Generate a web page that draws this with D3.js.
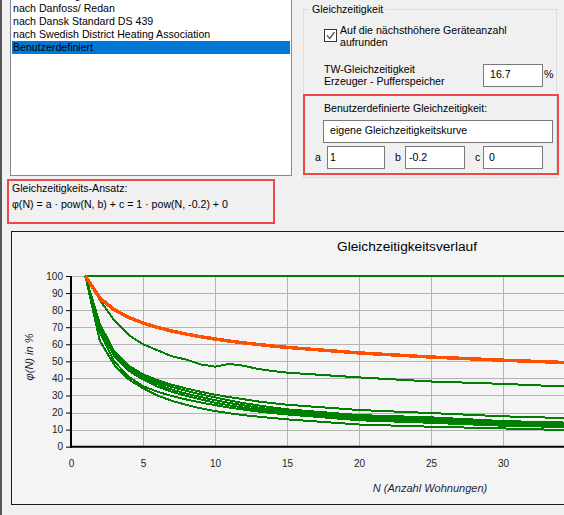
<!DOCTYPE html>
<html>
<head>
<meta charset="utf-8">
<script src="https://cdn.jsdelivr.net/npm/d3@7"></script>
<style>
  html, body { margin: 0; padding: 0; background: #f0f0f0; overflow: hidden; }
  svg { display: block; }
  .ui { font-family: "Liberation Sans", Arial, sans-serif; font-size: 10.6px; fill: #000; }
</style>
</head>
<body>
<svg id="chart" width="564" height="515"></svg>
<script>
// ---------- data ----------
const listItems = ["nach Recknagel", "nach Danfoss/ Redan", "nach Dansk Standard DS 439",
                   "nach Swedish District Heating Association", "Benutzerdefiniert"];
const selectedItem = "Benutzerdefiniert";
const paramA = "1", paramB = "-0.2", paramC = "0";
const twValue = "16.7";
const curveName = "eigene Gleichzeitigkeitskurve";
const formulaText = "φ(N) = a · pow(N, b) + c = 1 · pow(N, -0.2) + 0";

const chartTitle = "Gleichzeitigkeitsverlauf";
const xTitle = "N (Anzahl Wohnungen)";
const yTitle = "φ(N) in %";
const xTicks = [0, 5, 10, 15, 20, 25, 30];
const yTicks = [0, 10, 20, 30, 40, 50, 60, 70, 80, 90, 100];

const nValues      = [1, 2, 3, 4, 5, 6, 7, 8, 9, 10, 11, 12, 13, 14, 15, 20, 25, 30, 35, 40];
const userCurve    = [100, 87.06, 80.27, 75.79, 72.48, 69.88, 67.76, 65.98, 64.44, 63.10, 61.91, 60.84, 59.87, 58.99, 58.18, 54.93, 52.53, 50.66, 49.11, 47.82];
const curveFlat    = [100, 100, 100, 100, 100, 100, 100, 100, 100, 100, 100, 100, 100, 100, 100, 100, 100, 100, 100, 100];
const curveUpper   = [100, 86, 74, 65.5, 60, 56.5, 53, 51, 48.2, 46.9, 48.5, 47.4, 45.5, 44.3, 43.4, 40.6, 38.2, 36.8, 35.0, 33.6];
const curveA       = [100, 72, 56, 47.5, 42.4, 39.0, 36.3, 34.1, 32.2, 30.5, 29.0, 27.8, 26.5, 25.5, 24.6, 21.5, 19.7, 17.8, 16.6, 15.6];
const curveB       = [100, 71, 55, 46.5, 41.5, 37.8, 35.0, 32.7, 30.7, 28.9, 27.1, 25.5, 24.2, 23.0, 21.9, 18.5, 17.2, 15.0, 14.0, 13.2];
const curveC       = [100, 70, 54, 45.5, 40.5, 36.5, 33.5, 31.1, 29.1, 27.3, 25.6, 24.2, 22.9, 21.8, 20.8, 17.5, 16.0, 14.0, 13.1, 12.3];
const curveD       = [100, 69, 53, 44.5, 39.3, 35.2, 32.2, 29.8, 27.7, 25.8, 24.2, 22.9, 21.7, 20.7, 19.8, 16.5, 15.0, 13.0, 12.2, 11.4];
const curveE       = [100, 67, 50, 41, 35.5, 32.2, 29.7, 27.7, 25.9, 24.4, 22.9, 21.7, 20.6, 19.7, 18.9, 15.5, 14.0, 12.3, 11.4, 10.7];
const curveF       = [100, 62, 48, 39.5, 34.2, 30.0, 26.9, 24.5, 22.5, 20.9, 19.6, 18.5, 17.6, 16.8, 16.0, 13.0, 11.7, 10.7, 9.6, 9.0];

const greenCurves = [curveFlat, curveUpper, curveA, curveB, curveC, curveD, curveE, curveF];

// ---------- drawing ----------
const svg = d3.select("#chart");
const RED = "#ef4848";

function txt(g, x, y, s, opts = {}) {
  return g.append("text").attr("class", "ui").attr("x", x).attr("y", y).attr("dy", "0.35em")
    .attr("fill", opts.fill || "#000").style("font-size", opts.size || null).text(s);
}

// left dark edge
svg.append("rect").attr("x", 0).attr("y", 0).attr("width", 2).attr("height", 515).attr("fill", "#555");

// ---- list box ----
const lb = svg.append("g");
lb.append("rect").attr("x", 10.5).attr("y", -5).attr("width", 281).attr("height", 180.5)
  .attr("fill", "#fff").attr("stroke", "#828790");
const rowY = d3.scaleLinear().domain([0, 1]).range([-4.5, 8.5]);
listItems.forEach((s, i) => {
  const y = rowY(i);
  const sel = s === selectedItem;
  if (sel) lb.append("rect").attr("x", 12).attr("y", y - 6.5).attr("width", 278).attr("height", 13).attr("fill", "#0078d7");
  txt(lb, 13, y, s, { fill: sel ? "#fff" : "#000" });
});

// ---- formula box ----
svg.append("rect").attr("x", 8).attr("y", 180).attr("width", 266).attr("height", 43)
  .attr("fill", "none").attr("stroke", RED).attr("stroke-width", 2);
txt(svg, 12, 188, "Gleichzeitigkeits-Ansatz:");
txt(svg, 12, 204, formulaText);

// ---- group box ----
const gb = svg.append("g");
gb.append("rect").attr("x", 303.5).attr("y", 9.5).attr("width", 253).attr("height", 168)
  .attr("fill", "none").attr("stroke", "#dcdcdc");
gb.append("rect").attr("x", 309).attr("y", 3).attr("width", 76).attr("height", 12).attr("fill", "#f0f0f0");
txt(gb, 312, 9, "Gleichzeitigkeit");
// checkbox
gb.append("rect").attr("x", 324.5).attr("y", 29.5).attr("width", 12).attr("height", 12)
  .attr("fill", "#fff").attr("stroke", "#333");
gb.append("path").attr("d", "M327,35.5 L329.8,38.5 L334.5,32").attr("fill", "none")
  .attr("stroke", "#555").attr("stroke-width", 1.3);
txt(gb, 340, 30.5, "Auf die nächsthöhere Geräteanzahl");
txt(gb, 340, 42.5, "aufrunden");
txt(gb, 324, 69, "TW-Gleichzeitigkeit");
txt(gb, 324, 81.5, "Erzeuger - Pufferspeicher");
function box(x, y, w, h) {
  gb.append("rect").attr("x", x + 0.5).attr("y", y + 0.5).attr("width", w).attr("height", h)
    .attr("fill", "#fff").attr("stroke", "#7a7a7a");
}
box(483, 64, 59, 22);
txt(gb, 490, 74, twValue);
txt(gb, 544, 74, "%");
// red parameters box
gb.append("rect").attr("x", 304).attr("y", 95).attr("width", 254).attr("height", 79)
  .attr("fill", "none").attr("stroke", RED).attr("stroke-width", 2);
txt(gb, 324, 108, "Benutzerdefinierte Gleichzeitigkeit:");
box(323, 120, 229, 22);
txt(gb, 330, 130, curveName);
box(327, 146, 57, 22); txt(gb, 315, 157, "a"); txt(gb, 330, 157, paramA);
box(405, 146, 59, 22); txt(gb, 395, 157, "b"); txt(gb, 409, 157, paramB);
box(483, 146, 59, 22); txt(gb, 475, 157, "c"); txt(gb, 489, 157, paramC);

// ---- chart panel ----
svg.append("rect").attr("x", 11.5).attr("y", 231.5).attr("width", 600).attr("height", 273)
  .attr("fill", "#f4f4f4").attr("stroke", "#1a1a1a");

const x = d3.scaleLinear().domain([0, 40]).range([71, 71 + 14.4 * 40]);
const y = d3.scaleLinear().domain([0, 100]).range([446.7, 276]);

const plot = svg.append("g");
// grid
plot.selectAll(".gx").data(xTicks.filter(d => d > 0)).join("line")
  .attr("x1", d => Math.round(x(d)) + 0.5).attr("x2", d => Math.round(x(d)) + 0.5)
  .attr("y1", y(100)).attr("y2", y(0)).attr("stroke", "#b4b4b4").attr("shape-rendering", "crispEdges");
plot.selectAll(".gy").data(yTicks.filter(d => d > 0)).join("line")
  .attr("x1", x(0)).attr("x2", 564).attr("y1", d => Math.round(y(d)) + 0.5).attr("y2", d => Math.round(y(d)) + 0.5)
  .attr("stroke", "#b4b4b4").attr("shape-rendering", "crispEdges");

const line = d3.line().x((d, i) => x(nValues[i])).y(d => y(d));
greenCurves.forEach(c => {
  plot.append("path").attr("d", line(c)).attr("fill", "none").attr("stroke", "#008000")
    .attr("stroke-width", 2).attr("shape-rendering", "crispEdges");
});
plot.append("path").attr("d", line(userCurve)).attr("fill", "none").attr("stroke", "#ff5000")
  .attr("stroke-width", 3.5).attr("shape-rendering", "crispEdges");

// axes
const yAxis = d3.axisLeft(y).tickValues(yTicks).tickSize(5).tickPadding(3);
const yg = svg.append("g").attr("transform", `translate(${x(0)},0)`).call(yAxis);
yg.select(".domain").remove();
yg.selectAll("text").attr("font-family", "Liberation Sans, Arial, sans-serif").attr("font-size", 10).attr("fill", "#222");
yg.selectAll("line").attr("stroke", "#000");

const xAxis = d3.axisBottom(x).tickValues(xTicks).tickSize(0).tickPadding(13.5);
const xg = svg.append("g").attr("transform", `translate(0,${y(0)})`).call(xAxis);
xg.select(".domain").remove();
xg.selectAll("text").attr("font-family", "Liberation Sans, Arial, sans-serif").attr("font-size", 10).attr("fill", "#222");

svg.append("line").attr("x1", x(0)).attr("x2", x(0)).attr("y1", y(100)).attr("y2", y(0) + 1)
  .attr("stroke", "#000").attr("stroke-width", 2);
svg.append("line").attr("x1", x(0) - 1).attr("x2", 564).attr("y1", y(0)).attr("y2", y(0))
  .attr("stroke", "#000").attr("stroke-width", 2);

// titles
svg.append("text").attr("x", 407).attr("y", 246).attr("dy", "0.35em").attr("text-anchor", "middle")
  .attr("font-family", "Liberation Sans, Arial, sans-serif").attr("font-size", 13.7).attr("fill", "#000").text(chartTitle);
svg.append("text").attr("x", 430).attr("y", 488).attr("dy", "0.35em").attr("text-anchor", "middle")
  .attr("font-family", "Liberation Sans, Arial, sans-serif").attr("font-style", "italic").attr("font-size", 11)
  .attr("fill", "#1e1e3c").text(xTitle);
svg.append("text").attr("transform", "translate(29,357) rotate(-90)").attr("dy", "0.35em").attr("text-anchor", "middle")
  .attr("font-family", "Liberation Sans, Arial, sans-serif").attr("font-style", "italic").attr("font-size", 11)
  .attr("fill", "#1e1e3c").text(yTitle);
</script>
</body>
</html>
